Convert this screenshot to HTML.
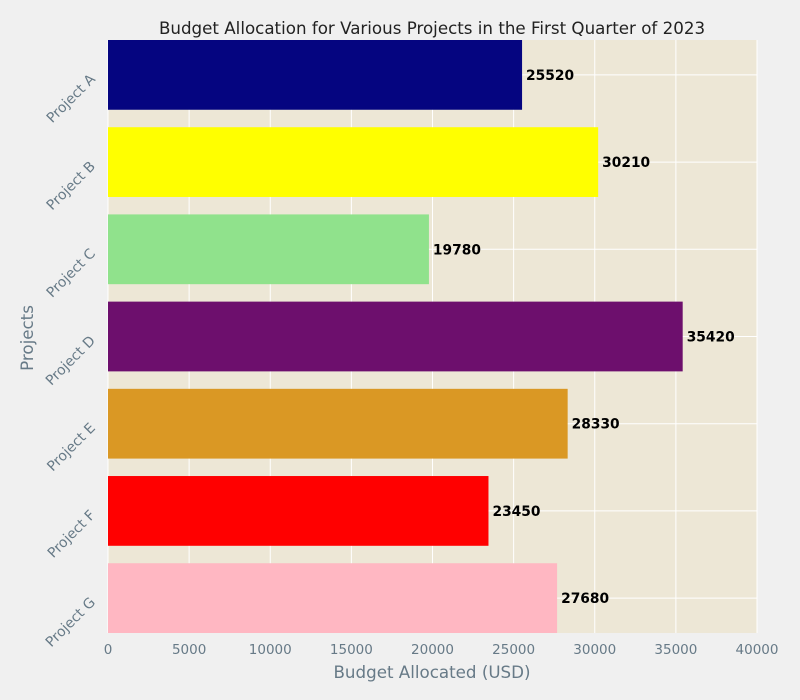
<!DOCTYPE html>
<html><head><meta charset="utf-8"><style>
body{margin:0;background:#f0f0f0;}
svg{display:block;font-family:"DejaVu Sans","Liberation Sans",sans-serif;}
</style></head><body>
<svg id="chart" width="800" height="700">
<rect x="0" y="0" width="800" height="700" fill="#f0f0f0"/>
<rect x="108" y="40" width="649" height="593" fill="#ede7d6"/>
<g id="grid"></g><g id="bars"></g><g id="ticks"></g>
<text x="432" y="34" text-anchor="middle" font-size="16.7" fill="#222">Budget Allocation for Various Projects in the First Quarter of 2023</text>
<text x="432" y="678" text-anchor="middle" font-size="16.7" fill="#677a87">Budget Allocated (USD)</text>
<text transform="translate(33,338) rotate(-90)" text-anchor="middle" font-size="16.7" fill="#677a87">Projects</text>
</svg>
<script>
const categories=["Project A","Project B","Project C","Project D","Project E","Project F","Project G"];
const values=[25520,30210,19780,35420,28330,23450,27680];
const colors=["#050580","#ffff00","#90e28c","#6d0f6d","#da9824","#ff0000","#ffb7c2"];
const xTicks=[0,5000,10000,15000,20000,25000,30000,35000,40000];
const NS="http://www.w3.org/2000/svg";
const L=108,R=757,T=40,B=633,xMax=40000;
const x=v=>L+(R-L)*v/xMax;
const unit=(B-T)/(categories.length-1+0.8);
const yc=i=>T+unit*(0.4+i);
function mk(tag,attrs,parent,text){const e=document.createElementNS(NS,tag);for(const k in attrs)e.setAttribute(k,attrs[k]);if(text!==undefined)e.textContent=text;document.getElementById(parent).appendChild(e);return e;}
xTicks.forEach(t=>{
  const g=mk('line',{x1:x(t),x2:x(t),y1:T,y2:B,stroke:'#ffffff','stroke-width':1},'grid');
  
  
  const l=mk('text',{x:x(t),y:654,'text-anchor':'middle','font-size':13.5,fill:'#677a87'},'ticks',String(t));
  
  
});
categories.forEach((c,i)=>{
  const g=mk('line',{x1:L,x2:R,y1:yc(i),y2:yc(i),stroke:'#ffffff','stroke-width':1},'grid');
  
  
  const b=mk('rect',{x:L,y:yc(i)-unit*0.4,width:x(values[i])-L,height:unit*0.8,fill:colors[i]},'bars');
  
  
  const v=mk('text',{x:x(values[i])+4,y:yc(i)+5,'font-size':13.8,'font-weight':'bold',fill:'#000'},'bars',String(values[i]));
  
  
  const tl=mk('text',{transform:`translate(96,${yc(i)+5}) rotate(-45)`,'text-anchor':'end','font-size':14,fill:'#677a87'},'ticks',c);
  
  
});
</script>
</body></html>
